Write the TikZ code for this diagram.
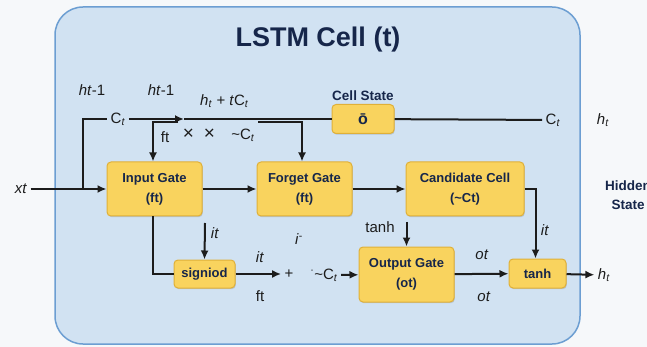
\documentclass[tikz,border=0pt]{standalone}
\usepackage{fontspec}
\setmainfont{Liberation Sans}
\usepackage{tikz}
\usepackage{xcolor}
\usetikzlibrary{arrows.meta,shadows}
\definecolor{pagebg}{HTML}{F6F8FA}
\definecolor{cellbg}{HTML}{D1E2F2}
\definecolor{cellline}{HTML}{6C9ED2}
\definecolor{gatefill}{HTML}{F9D35E}
\definecolor{gateline}{HTML}{E0B038}
\definecolor{navy}{HTML}{16264A}
\definecolor{ink}{HTML}{1C1C1C}
\newcommand{\sbs}[2]{\textit{#1}\textsubscript{\textit{#2}}}
\newcommand{\csub}{C\textsubscript{\textit{t}}}

\begin{document}
\begin{tikzpicture}[x=1pt, y=-1pt, >={Latex[length=9pt,width=8pt]},
  every node/.style={text=ink, font=\fontsize{15}{17}\selectfont},
  gate/.style={draw=gateline, fill=gatefill, line width=1pt, rounded corners=4pt,
    font=\bfseries\fontsize{13}{20}\selectfont, text=navy, align=center,
    minimum width=95pt, minimum height=54pt,
    drop shadow={shadow xshift=0.8pt, shadow yshift=-1.2pt, opacity=0.2, fill=black!70}},
  head/.style={font=\bfseries\fontsize{13.5}{19}\selectfont, text=navy, align=center},
  flow/.style={line width=2pt, draw=ink}]
  \clip (0,0) rectangle (647,347);
  \fill[pagebg] (0,0) rectangle (647,347);
  % cell frame
  \draw[cellline, fill=cellbg, line width=1.5pt, rounded corners=28pt] (55,7) rectangle (580,344);
  \node[font=\bfseries\fontsize{27}{30}\selectfont, text=navy] (title) at (318,40) {LSTM Cell (t)};
  % gates
  \node[gate] (input) at (154.5,189) {Input Gate\\(ft)};
  \node[gate] (forget) at (304.5,189) {Forget Gate\\(ft)};
  \node[gate, minimum width=118pt] (cand) at (465,189) {Candidate Cell\\(\textasciitilde Ct)};
  \node[gate, minimum width=62pt, minimum height=29pt, font=\bfseries\fontsize{16}{18}\selectfont] (state) at (363,119) {\=o};
  \node[head] (statelbl) at (363,96) {Cell State};
  \node[gate, minimum width=61pt, minimum height=28pt] (sig) at (204.5,274) {signiod};
  \node[gate, minimum height=55pt] (output) at (406.5,274.5) {Output Gate\\(ot)};
  \node[gate, minimum width=57pt, minimum height=29pt] (tanh) at (537.5,273.5) {tanh};
  \node[head] (hidden) at (628,195) {Hidden\\State};
  % labels
  \node (xt) at (21,189) {\textit{xt}};
  \node (hprev1) at (92,90) {\textit{ht}-1};
  \node (hprev2) at (161,90) {\textit{ht}-1};
  \node (hsum) at (224.5,101) {\sbs{h}{t} + \textit{t}\csub};
  \node (ctin) at (118,119) {\csub};
  \node (ctout) at (553,120) {\csub};
  \node (htop) at (603,120) {\sbs{h}{t}};
  \node (ftlbl) at (165,137) {ft};
  \node[font=\fontsize{19}{20}\selectfont] (times) at (199,134) {\texttimes\hspace{10pt}\texttimes};
  \node (ctilde) at (243,135) {\textasciitilde\csub};
  \node (itlbl1) at (215,233) {\textit{it}};
  \node (itlbl2) at (260,257) {\textit{it}};
  \node (ftlbl2) at (260,296) {ft};
  \node (ilbl) at (299,239) {\textit{i}\textsuperscript{-}};
  \node (plus) at (289,274) {+};
  \node (ctmul) at (324,275) {\textsuperscript{\textperiodcentered}\textasciitilde\csub};
  \node (tanhlbl) at (380,227) {tanh};
  \node (itlbl3) at (545,230) {\textit{it}};
  \node (otlbl1) at (482,255) {\textit{ot}};
  \node (otlbl2) at (484,297) {\textit{ot}};
  \node (htout) at (604,275) {\sbs{h}{t}};
  % junctions
  \coordinate (split) at (83,189);
  \coordinate (merge) at (184,119);
  \coordinate (ftsrc) at (178,122);
  \coordinate (fgsrc) at (258,122);
  \coordinate (itsrc) at (205,223);
  \coordinate (tanhsrc) at (406.5,222);
  % connectors
  \draw[flow,->] (xt) -- (input);
  \draw[flow] (split) |- (ctin);
  \draw[flow,->] (ctin) -- (merge);
  \draw[flow] (merge) -- (state);
  \draw[flow] (state) -- (ctout);
  \draw[flow,->] (ftsrc) -| ([xshift=-1.5pt]input.north);
  \draw[flow,->] (fgsrc) -| ([xshift=-2.5pt]forget.north);
  \draw[flow,->] (input) -- (forget);
  \draw[flow,->] (forget) -- (cand);
  \draw[flow] ([xshift=-1.5pt]input.south) |- (sig.west);
  \draw[flow,->] (itsrc) -- (sig.north);
  \draw[flow,->] (sig) -- (plus);
  \draw[flow,->] (ctmul) -- (output);
  \draw[flow,->] (tanhsrc) -- (output.north);
  \draw[flow,->] (cand.east) -| ([xshift=-2pt]tanh.north);
  \draw[flow,->] (output) -- (tanh);
  \draw[flow,->] (tanh) -- (htout);
\end{tikzpicture}
\end{document}
